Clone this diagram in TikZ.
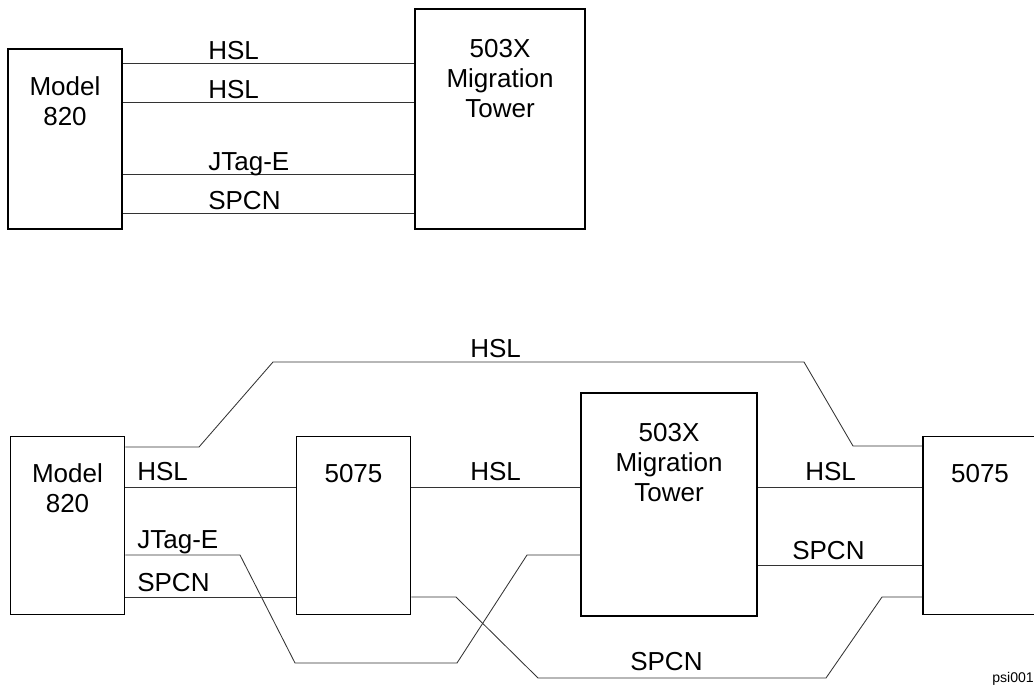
\documentclass[tikz,border=0pt]{standalone}
\usepackage{fontspec}
\setmainfont{Liberation Sans}
\usetikzlibrary{positioning}
\tikzset{
  unit/.style={draw,line width=1.3pt,minimum width=2.85cm,minimum height=4.45cm,inner sep=0pt},
  tower/.style={draw,line width=1.3pt,inner sep=0pt},
  utxt/.style={anchor=north,align=center,inner sep=0pt,font=\fontsize{18.5}{21.3}\selectfont},
  wire/.style={draw=black!80,line width=0.6pt},
  lbl/.style={anchor=base west,inner sep=0pt,font=\fontsize{18.5}{21.3}\selectfont},
  tag/.style={anchor=base west,inner sep=0pt,font=\fontsize{10}{12}\selectfont}
}
\begin{document}
\begin{tikzpicture}[x=0.025cm,y=-0.025cm]
\useasboundingbox (0,0) rectangle (1034,685);
% upper picture
\node[unit,minimum height=4.5cm] (mA) at (65,139) {};
\node[tower,minimum width=4.25cm,minimum height=5.5cm] (tA) at (500,119) {};
\node[utxt,yshift=-28*0.025cm] (mAt) at (mA.north) {Model\\820};
\node[utxt,yshift=-31*0.025cm] (tAt) at (tA.north) {503X\\Migration\\Tower};
\draw[wire] (mA.east |- 0,63) -- (tA.west |- 0,63);
\draw[wire] (mA.east |- 0,102) -- (tA.west |- 0,102);
\draw[wire] (mA.east |- 0,174) -- (tA.west |- 0,174);
\draw[wire] (mA.east |- 0,213) -- (tA.west |- 0,213);
\node[lbl] (a1) at (208,59) {HSL};
\node[lbl] (a2) at (208,98) {HSL};
\node[lbl] (a3) at (208,170) {JTag-E};
\node[lbl] (a4) at (208,209) {SPCN};
% lower picture
\node[unit] (mB) at (67.5,525.5) {};
\node[unit] (eB) at (353.5,525.5) {};
\node[tower,minimum width=4.4cm,minimum height=5.575cm] (tB) at (669,504.5) {};
\node[unit] (fB) at (980,525.5) {};
\node[utxt,yshift=-28*0.025cm] (mBt) at (mB.north) {Model\\820};
\node[utxt,yshift=-28*0.025cm] (eBt) at (eB.north) {5075};
\node[utxt,yshift=-31*0.025cm] (tBt) at (tB.north) {503X\\Migration\\Tower};
\node[utxt,yshift=-28*0.025cm] (fBt) at (fB.north) {5075};
\draw[wire] (mB.east |- 0,447) -- (199,447) -- (273,362) -- (804,362) -- (853,446) -- (fB.west |- 0,446);
\draw[wire] (mB.east |- 0,487) -- (eB.west |- 0,487);
\draw[wire] (eB.east |- 0,487) -- (tB.west |- 0,487);
\draw[wire] (tB.east |- 0,487) -- (fB.west |- 0,487);
\draw[wire] (mB.east |- 0,555) -- (240,555) -- (295,663) -- (457,663) -- (527,555) -- (tB.west |- 0,555);
\draw[wire] (mB.east |- 0,597) -- (eB.west |- 0,597);
\draw[wire] (eB.east |- 0,597) -- (456,597) -- (538,678) -- (826,678) -- (882,597) -- (fB.west |- 0,597);
\draw[wire] (tB.east |- 0,565) -- (fB.west |- 0,565);
\node[lbl] (b1) at (470,357) {HSL};
\node[lbl] (b2) at (137,480) {HSL};
\node[lbl] (b3) at (470,480) {HSL};
\node[lbl] (b4) at (805,480) {HSL};
\node[lbl] (b5) at (137,548) {JTag-E};
\node[lbl] (b6) at (137,591) {SPCN};
\node[lbl] (b7) at (792,559) {SPCN};
\node[lbl] (b8) at (630,670) {SPCN};
\node[tag] (psi) at (992,682) {psi001};
\end{tikzpicture}
\end{document}
